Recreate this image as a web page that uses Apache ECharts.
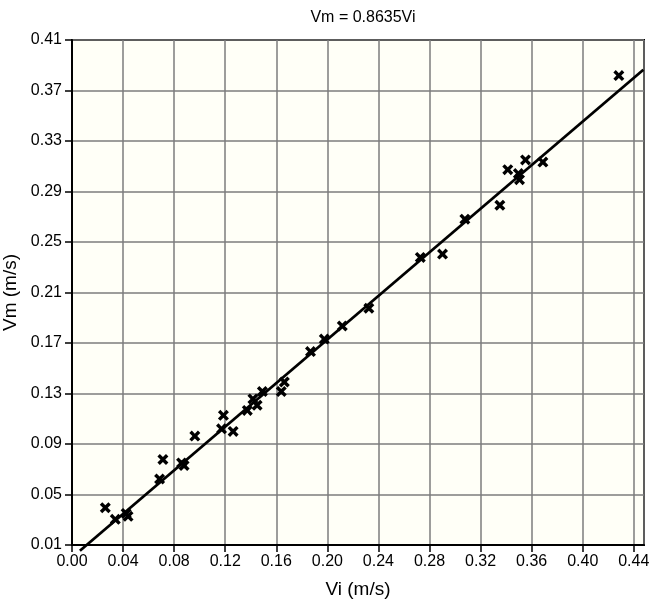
<!DOCTYPE html>
<html>
<head>
<meta charset="utf-8">
<title>Vm vs Vi</title>
<script src="https://cdn.jsdelivr.net/npm/echarts@6/dist/echarts.min.js"></script>
<style>
  html, body { margin: 0; padding: 0; background: #fff; }
  #main { width: 649px; height: 602px; }
</style>
</head>
<body>
<div id="main"></div>
<script>
// measured points (m/s)
const viData = [0.0261, 0.0339, 0.0424, 0.0439, 0.0686, 0.0712, 0.0858, 0.0878, 0.0962, 0.1171,
  0.1186, 0.1262, 0.1373, 0.1417, 0.1450, 0.1491, 0.1639, 0.1663, 0.1868, 0.1976,
  0.2117, 0.2325, 0.2728, 0.2902, 0.3077, 0.3351, 0.3413, 0.3496, 0.3505, 0.3552,
  0.3688, 0.4283]
const vmData = [0.0395, 0.0303, 0.0350, 0.0327, 0.0623, 0.0777, 0.0750, 0.0730, 0.0963, 0.1020,
  0.1127, 0.1000, 0.1166, 0.1257, 0.1207, 0.1316, 0.1316, 0.1391, 0.1632, 0.1731,
  0.1835, 0.1975, 0.2378, 0.2404, 0.2681, 0.2791, 0.3073, 0.3042, 0.2994, 0.3150,
  0.3133, 0.3818]
// fitted line Vm = 0.8635Vi, end points
const fitX = [0.0062, 0.4475]
const fitY = [0.0054, 0.3864]

const xTicks = { min: 0, max: 0.448, interval: 0.04 }
const yTicks = { min: 0.01, max: 0.41, interval: 0.04 }

// bold "x" marker
const crossSymbol = 'path://M0,2.2L2.2,0L5,2.8L7.8,0L10,2.2L7.2,5L10,7.8L7.8,10L5,7.2L2.2,10L0,7.8L2.8,5Z'
const labelFont = 'Liberation Sans, Arial, sans-serif'

const chart = echarts.init(document.getElementById('main'))
const option = {
  animation: false,
  title: {
    text: 'Vm = 0.8635Vi',
    left: 358,
    textAlign: 'center',
    top: 5,
    textStyle: { fontFamily: labelFont, fontSize: 16, fontWeight: 'normal', color: '#000' }
  },
  grid: {
    left: 72,
    right: 5,
    top: 40,
    bottom: 57,
    outerBoundsMode: 'none',
    containLabel: false,
    show: true,
    backgroundColor: '#fffff7',
    borderColor: '#000',
    borderWidth: 2
  },
  xAxis: {
    type: 'value',
    min: xTicks.min,
    max: xTicks.max,
    interval: xTicks.interval,
    name: 'Vi (m/s)',
    nameLocation: 'middle',
    nameGap: 35,
    nameTextStyle: { fontFamily: labelFont, fontSize: 19, color: '#000' },
    axisLine: { show: true, lineStyle: { color: '#000', width: 2 } },
    axisTick: { show: true, length: 7, lineStyle: { color: '#000', width: 1.5 } },
    axisLabel: {
      color: '#000',
      fontFamily: labelFont,
      fontSize: 16,
      margin: 9,
      showMaxLabel: false,
      formatter: v => v.toFixed(2)
    },
    splitLine: { show: true, lineStyle: { color: '#7d7d7d', width: 1.5 } }
  },
  yAxis: {
    type: 'value',
    min: yTicks.min,
    max: yTicks.max,
    interval: yTicks.interval,
    name: 'Vm (m/s)',
    nameLocation: 'middle',
    nameGap: 44,
    nameTextStyle: { fontFamily: labelFont, fontSize: 19, color: '#000' },
    axisLine: { show: true, lineStyle: { color: '#000', width: 2 } },
    axisTick: { show: true, length: 7, lineStyle: { color: '#000', width: 1.5 } },
    axisLabel: {
      color: '#000',
      fontFamily: labelFont,
      fontSize: 16,
      margin: 10,
      formatter: v => v.toFixed(2)
    },
    splitLine: { show: true, lineStyle: { color: '#7d7d7d', width: 1.5 } }
  },
  series: [
    {
      name: 'fit',
      type: 'line',
      data: fitX.map((x, i) => [x, fitY[i]]),
      symbol: 'none',
      clip: false,
      lineStyle: { color: '#000', width: 2.8 },
      z: 2
    },
    {
      name: 'data',
      type: 'scatter',
      data: viData.map((x, i) => [x, vmData[i]]),
      symbol: crossSymbol,
      symbolSize: 11,
      itemStyle: { color: '#000', opacity: 1 },
      z: 3
    }
  ]
}
chart.setOption(option)
</script>
</body>
</html>
